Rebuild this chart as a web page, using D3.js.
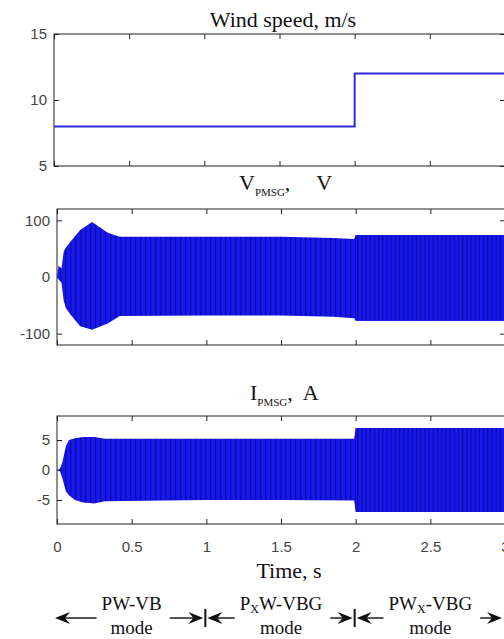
<!DOCTYPE html>
<html>
<head>
<meta charset="utf-8">
<script src="https://cdn.jsdelivr.net/npm/d3@7"></script>
<style>
body { margin: 0; background: #fff; overflow: hidden }
svg { display: block }
.tick text { font-family: "Liberation Sans", Arial, sans-serif; font-size: 15px; fill: #444 }
.tick line { stroke: #222 }
.serif { font-family: "Liberation Serif", "Times New Roman", serif; fill: #111 }
</style>
</head>
<body>
<svg width="504" height="639"></svg>
<script>
// wind speed step
const windTime = [0, 2, 2, 3]
const windSpeed = [8, 8, 12, 12]

// V_PMSG envelope
const vTime  = [0, 0.01, 0.03, 0.045, 0.06, 0.09, 0.155, 0.235, 0.34, 0.42, 1.0, 1.5, 1.85, 1.99, 2.0, 2.5, 3.0]
const vUpper = [0, 20, 15, 45, 52, 62, 83, 97, 78, 71, 71, 71, 69, 67, 74, 74, 74]
const vLower = [0, -4, -10, -42, -55, -66, -87, -93, -82, -69, -68, -68, -70, -73, -77, -77, -77]

// I_PMSG envelope
const iTime  = [0, 0.02, 0.035, 0.06, 0.08, 0.12, 0.175, 0.25, 0.32, 1.0, 1.5, 1.99, 2.0, 2.5, 3.0]
const iUpper = [0, 0.2, 1.2, 4.0, 5.0, 5.3, 5.5, 5.5, 5.2, 5.2, 5.2, 5.2, 7.0, 7.0, 7.0]
const iLower = [0, -0.2, -1.3, -3.6, -4.2, -5.0, -5.4, -5.6, -5.2, -5.0, -5.0, -5.1, -7.0, -7.0, -7.0]

const xTicks = [0, 0.5, 1, 1.5, 2, 2.5, 3]
const windTicks = [5, 10, 15]
const vTicks = [-100, 0, 100]
const iTicks = [-5, 0, 5]

const modeLabels = ['PW-VB', 'P_XW-VBG', 'PW_X-VBG']
const modeBounds = [0, 1, 2, 3]

const svg = d3.select('svg')
const defs = svg.append('defs')
const blue = '#1818ee'

const makePattern = (id, w) => {
  const p = defs.append('pattern').attr('id', id)
    .attr('patternUnits', 'userSpaceOnUse').attr('width', w).attr('height', 10)
  p.append('rect').attr('width', w).attr('height', 10).attr('fill', blue)
  p.append('rect').attr('width', 1.3).attr('height', 10).attr('fill', '#000070').attr('opacity', 0.55)
}
makePattern('st1', 5)
makePattern('st2', 4.2)

const plain = d => String(d)

function panel(id, top, bottom, left, domain, yTicks, showX) {
  const right = 505
  const x = d3.scaleLinear().domain([0, 3]).range([left, right])
  const y = d3.scaleLinear().domain(domain).range([bottom, top])
  const g = svg.append('g')

  defs.append('clipPath').attr('id', 'clip-' + id)
    .append('rect').attr('x', left).attr('y', top).attr('width', right - left).attr('height', bottom - top)
  // right part, after the wind step
  defs.append('clipPath').attr('id', 'clip2-' + id)
    .append('rect').attr('x', x(2)).attr('y', top).attr('width', right - x(2)).attr('height', bottom - top)

  g.append('g').attr('transform', `translate(${left},0)`)
    .call(d3.axisLeft(y).tickValues(yTicks).tickSize(-5).tickPadding(7).tickFormat(plain))
    .call(a => a.select('.domain').remove())
  g.append('g').attr('transform', `translate(${right},0)`)
    .call(d3.axisRight(y).tickValues(yTicks).tickSize(-5).tickFormat(''))
    .call(a => a.select('.domain').remove())
  g.append('g').attr('transform', `translate(0,${top})`)
    .call(d3.axisTop(x).tickValues(xTicks).tickSize(-5).tickFormat(''))
    .call(a => a.select('.domain').remove())
  g.append('g').attr('transform', `translate(0,${bottom})`)
    .call(d3.axisBottom(x).tickValues(xTicks).tickSize(-5).tickPadding(17)
      .tickFormat(showX ? plain : ''))
    .call(a => a.select('.domain').remove())

  g.append('rect').attr('x', left).attr('y', top)
    .attr('width', right - left).attr('height', bottom - top)
    .attr('fill', 'none').attr('stroke', '#222').attr('stroke-width', 1)

  const plot = g.append('g').attr('clip-path', `url(#clip-${id})`)
  return { id, x, y, plot }
}

// panel 1: wind speed
const p1 = panel('w', 34, 166, 54, [5, 15], windTicks, false)
p1.plot.append('path')
  .datum(windTime.map((t, i) => [t, windSpeed[i]]))
  .attr('fill', 'none').attr('stroke', '#2a2ad6').attr('stroke-width', 2)
  .attr('d', d3.line().x(d => p1.x(d[0])).y(d => p1.y(d[1])))

// oscillating signals drawn as filled envelope bands
function band(p, time, upper, lower) {
  const rows = time.map((t, i) => ({ t, hi: upper[i], lo: lower[i] }))
  const area = d3.area().x(d => p.x(d.t)).y0(d => p.y(d.lo)).y1(d => p.y(d.hi))
  p.plot.append('path').datum(rows).attr('fill', 'url(#st1)').attr('d', area)
  p.plot.append('g').attr('clip-path', `url(#clip2-${p.id})`)
    .append('path').datum(rows).attr('fill', 'url(#st2)').attr('d', area)
}

const p2 = panel('v', 209, 345, 57, [-120, 120], vTicks, false)
band(p2, vTime, vUpper, vLower)

const p3 = panel('i', 416, 524, 57, [-9, 9], iTicks, true)
band(p3, iTime, iUpper, iLower)

// titles
svg.append('text').attr('class', 'serif').attr('x', 283).attr('y', 27)
  .attr('text-anchor', 'middle').style('font-size', '22px').text('Wind speed, m/s')

function subTitle(x0, y0, main, sub, tail, gap) {
  const t = svg.append('text').attr('class', 'serif').attr('x', x0).attr('y', y0).style('font-size', '22px')
  t.append('tspan').text(main)
  t.append('tspan').attr('dy', 6).style('font-size', '11px').text(sub)
  t.append('tspan').attr('dy', -6).text(',')
  t.append('tspan').attr('dx', gap).text(tail)
}
subTitle(239, 190, 'V', 'PMSG', 'V', 26)
subTitle(250, 400, 'I', 'PMSG', 'A', 10)

svg.append('text').attr('class', 'serif').attr('x', 289).attr('y', 578)
  .attr('text-anchor', 'middle').style('font-size', '22px').text('Time, s')

// operating mode annotations
const ay = 618
const head = (xTip, dir) => {
  svg.append('path')
    .attr('d', `M${xTip},${ay} L${xTip - dir * 15},${ay - 6} L${xTip - dir * 10},${ay} L${xTip - dir * 15},${ay + 6} Z`)
    .attr('fill', '#111')
}
const shaft = (x1, x2) => {
  svg.append('line').attr('x1', x1).attr('x2', x2).attr('y1', ay).attr('y2', ay)
    .attr('stroke', '#555').attr('stroke-width', 2)
}

modeLabels.forEach((lab, i) => {
  const a = p3.x(modeBounds[i]), b = p3.x(modeBounds[i + 1])
  const cx = (a + b) / 2
  const t = svg.append('text').attr('class', 'serif').attr('x', cx).attr('y', 610)
    .attr('text-anchor', 'middle').style('font-size', '19px')
  const m = lab.match(/^(.*)_(\w)(.*)$/)
  if (m) {
    t.append('tspan').text(m[1])
    t.append('tspan').attr('dy', 3).style('font-size', '12px').text(m[2])
    t.append('tspan').attr('dy', -3).text(m[3])
  } else {
    t.text(lab)
  }
  svg.append('text').attr('class', 'serif').attr('x', cx).attr('y', 634)
    .attr('text-anchor', 'middle').style('font-size', '19px').text('mode')

  const w = t.node().getComputedTextLength()
  const l = cx - w / 2 - 5, r = cx + w / 2 + 8
  const tipL = i === 0 ? a - 2 : a + 1
  const tipR = b - 3
  shaft(l, tipL + 10)
  head(tipL, -1)
  shaft(r, tipR - 10)
  head(tipR, 1)
})

modeBounds.slice(1, 3).forEach(t => {
  svg.append('line').attr('x1', p3.x(t) - 1).attr('x2', p3.x(t) - 1)
    .attr('y1', ay - 9).attr('y2', ay + 9).attr('stroke', '#111').attr('stroke-width', 2)
})
</script>
</body>
</html>
